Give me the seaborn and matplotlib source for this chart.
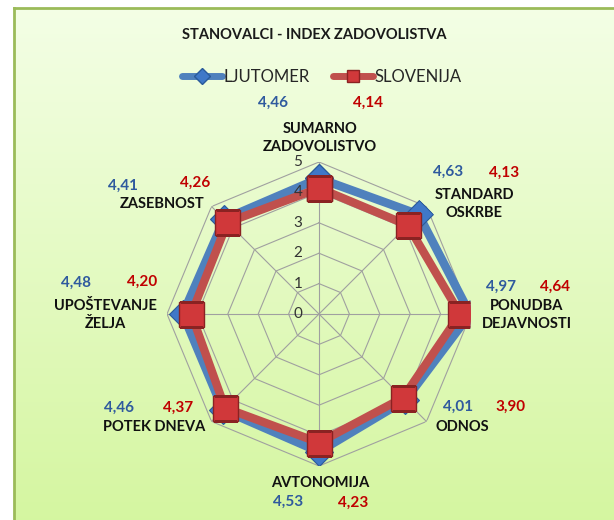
import numpy as np
import pandas as pd
import seaborn as sns
import matplotlib.pyplot as plt
import matplotlib.transforms as mtransforms
from matplotlib.lines import Line2D

#%% data
categories = ["SUMARNO\nZADOVOLISTVO", "STANDARD\nOSKRBE", "PONUDBA\nDEJAVNOSTI", "ODNOS",
              "AVTONOMIJA", "POTEK DNEVA", "UPOŠTEVANJE\nŽELJA", "ZASEBNOST"]
ljutomer = [4.46, 4.63, 4.97, 4.01, 4.53, 4.46, 4.48, 4.41]
slovenija = [4.14, 4.13, 4.64, 3.90, 4.23, 4.37, 4.20, 4.26]
r_ticks = [0, 1, 2, 3, 4, 5]

title = "STANOVALCI - INDEX ZADOVOLISTVA"
series_names = ["LJUTOMER", "SLOVENIJA"]

#%% layout (pixel positions of the labels, Excel places them by hand)
cat_pos = [(320, 138), (474, 204), (527, 315), (462, 427),
           (320, 483), (154, 427), (105, 315), (162, 204)]
val_pos_blue = [(273, 103), (448, 172), (501, 287), (458, 407),
                (288, 502), (119, 408), (76, 283), (123, 186)]
val_pos_red = [(368, 103), (504, 173), (555, 287), (511, 407),
               (353, 503), (178, 408), (142, 282), (195, 183)]

W, H = 614, 520
BLUE = "#4f81bd"
RED = "#c0504d"
BLUE_TXT = "#2f5a9e"
RED_TXT = "#c00000"

sns.set_theme(style="white")
plt.rcParams["font.family"] = ["Lato", "DejaVu Sans"]


def fx(x):
    return x / W


def fy(y):
    return 1 - y / H


n = len(categories)
theta = np.linspace(0, 2 * np.pi, n, endpoint=False)
df = pd.DataFrame({"theta": np.append(theta, theta[0]),
                   "LJUTOMER": ljutomer + ljutomer[:1],
                   "SLOVENIJA": slovenija + slovenija[:1]})

#%% figure
fig = plt.figure(figsize=(W / 100, H / 100), dpi=100)

# green gradient background with frame
bg = fig.add_axes([fx(14), 0, 1 - fx(14), fy(8)])
grad = np.linspace(0, 1, 256).reshape(-1, 1)
top = np.array([0.955, 0.998, 0.90])
bot = np.array([0.835, 0.965, 0.63])
img = top + (bot - top) * grad[..., None]
bg.imshow(img, aspect="auto", extent=[0, 1, 0, 1])
bg.set_xticks([])
bg.set_yticks([])
for s in ["right", "bottom"]:
    bg.spines[s].set_visible(False)
for s in ["left", "top"]:
    bg.spines[s].set_color("#9bbb59")
    bg.spines[s].set_linewidth(2)

# radar
cx, cy, rad = 319, 314, 152
ax = fig.add_axes([fx(cx - rad), 1 - (cy + rad) / H, 2 * rad / W, 2 * rad / H], projection="polar")
ax.set_facecolor("none")
ax.set_theta_zero_location("N")
ax.set_theta_direction(-1)
ax.set_ylim(0, 5)
ax.grid(False)
ax.spines["polar"].set_visible(False)
ax.set_xticks([])
ax.set_yticks([])

# octagon grid
for lvl in r_ticks[1:]:
    ax.plot(df["theta"], [lvl] * (n + 1), color="#a0a0a0", lw=0.8, zorder=1)
for t in theta:
    ax.plot([t, t], [0, 5], color="#a0a0a0", lw=0.8, zorder=1)

sns.lineplot(data=df, x="theta", y="LJUTOMER", sort=False, estimator=None, ax=ax,
             color=BLUE, lw=6.2, marker="D", markersize=14, markerfacecolor="#3f78c8",
             markeredgecolor="#2a5a9a", markeredgewidth=0.8, zorder=3)
sns.lineplot(data=df, x="theta", y="SLOVENIJA", sort=False, estimator=None, ax=ax,
             color=RED, lw=6, marker="s", markersize=18, markerfacecolor="#d0383a",
             markeredgecolor="#8a2222", markeredgewidth=1, zorder=4)
ax.set_xlabel("")
ax.set_ylabel("")
ax.set_ylim(0, 5)

# radial tick labels
off = mtransforms.offset_copy(ax.transData, fig=fig, x=-21, y=0, units="dots")
for v in r_ticks:
    ax.text(0, v, str(v), transform=off, ha="center", va="center",
            fontsize=11, color="#333333", zorder=5)

#%% texts
fig.text(fx(314), fy(35), title, ha="center", va="center", fontsize=10.5,
         fontweight="bold", color="#1a1a1a")

for lab, (x, y) in zip(categories, cat_pos):
    fig.text(fx(x), fy(y), lab, ha="center", va="center", fontsize=10.5,
             fontweight="bold", color="#111111", linespacing=1.3)

for v, (x, y) in zip(ljutomer, val_pos_blue):
    fig.text(fx(x), fy(y), f"{v:.2f}".replace(".", ","), ha="center", va="center",
             fontsize=11, fontweight="bold", color=BLUE_TXT)
for v, (x, y) in zip(slovenija, val_pos_red):
    fig.text(fx(x), fy(y), f"{v:.2f}".replace(".", ","), ha="center", va="center",
             fontsize=11, fontweight="bold", color=RED_TXT)

# legend
handles = [Line2D([], [], color=BLUE, lw=5, marker="D", markersize=8, solid_capstyle="round",
                  markerfacecolor="#3f78c8", markeredgecolor="#2a5a9a"),
           Line2D([], [], color=RED, lw=5, marker="s", markersize=9, solid_capstyle="round",
                  markerfacecolor="#d0383a", markeredgecolor="#8a2222")]
fig.legend(handles, series_names, loc="center", bbox_to_anchor=(fx(322), fy(77)),
           ncol=2, frameon=False, fontsize=12, handlelength=2.4, handletextpad=0.1,
           columnspacing=1.4)

fig.savefig("out.png", dpi=100)
